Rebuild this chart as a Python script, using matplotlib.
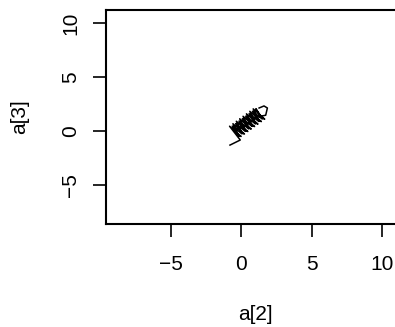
import numpy as np
import matplotlib
matplotlib.use("Agg")
import matplotlib.pyplot as plt

# trayectoria de a[2] vs a[3] leida del grafico
# cola, dos pasadas de la espiral y el gancho final
a2 = [-0.80, -0.07,
      # pasada 1 (sube)
      -0.83, -0.01, -0.19, -0.59, 0.23, 0.05, -0.35, 0.47, 0.29,
      -0.11, 0.71, 0.53, 0.13, 0.95, 0.77, 0.37, 1.19, 1.01,
      0.61, 1.43, 1.25, 0.85, 1.67, 1.49,
      # pasada 2 (baja)
      1.04, 1.49, 0.80, 1.25, 0.56, 1.01, 0.32, 0.77,
      0.08, 0.53, -0.16, 0.29, -0.40, 0.05, -0.64, -0.19,
      # vuelta al extremo y gancho
      -0.50, 0.40, 1.10, 1.74, 1.86, 1.62, 1.27]
a3 = [-1.30, -0.83,
      0.45, -0.50, -0.41, 0.68, -0.27, -0.18, 0.91, -0.04, 0.05,
      1.14, 0.19, 0.28, 1.37, 0.42, 0.51, 1.60, 0.65, 0.74,
      1.83, 0.88, 0.97, 2.06, 1.11, 1.20,
      2.07, 1.12, 1.84, 0.89, 1.61, 0.66, 1.38, 0.43,
      1.15, 0.20, 0.92, -0.03, 0.69, -0.26, 0.46, -0.49,
      0.10, 0.60, 1.30, 1.47, 2.14, 2.33, 2.14]

xticks = [-5, 0, 5, 10]
yticks = [-5, 0, 5, 10]
ticklabels = ["\u22125", "0", "5", "10"]

plt.rcParams['font.family'] = ['Liberation Sans', 'DejaVu Sans']

fig = plt.figure(figsize=(3.95, 3.27), dpi=100)
ax = fig.add_axes([0.2676, 0.315, 0.756, 0.6544])
ax.plot(a2, a3, color="black", lw=1.1)

ax.set_xlim(-9.64, 11.6)
ax.set_ylim(-8.62, 11.23)
ax.set_xticks(xticks)
ax.set_yticks(yticks)
ax.set_xticklabels(ticklabels)
ax.set_yticklabels(ticklabels, rotation=90, va="center")

for s in ["left", "top", "bottom", "right"]:
    ax.spines[s].set_linewidth(1.5)
ax.tick_params(direction="out", length=9.5, width=1.2, labelsize=15, pad=12.5)
ax.tick_params(axis="y", pad=9)

ax.set_xlabel("a[2]", fontsize=15)
ax.set_ylabel("a[3]", fontsize=15)
ax.xaxis.set_label_coords(0.5, -0.38)
ax.yaxis.set_label_coords(-0.255, 0.5)

fig.savefig("out.png", dpi=100)
